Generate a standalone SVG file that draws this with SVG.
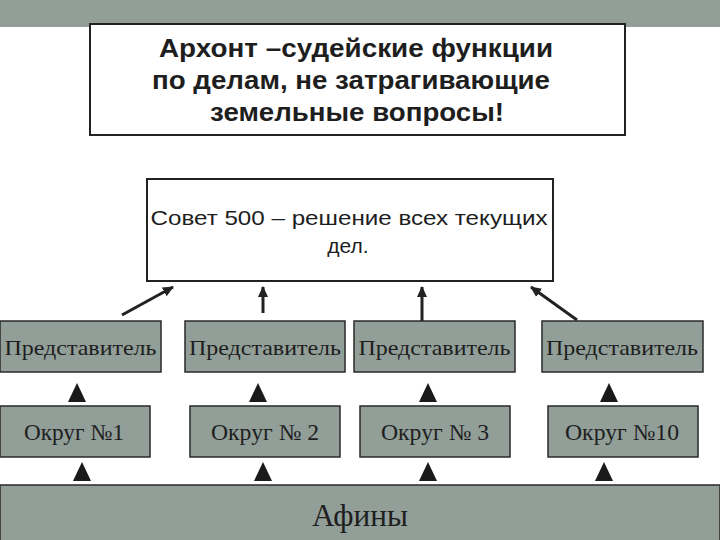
<svg xmlns="http://www.w3.org/2000/svg" width="720" height="540" viewBox="0 0 720 540">
<defs>
<style>
.band{fill:#929f99}
.gbox{fill:#929f99;stroke:#2a2a2a;stroke-width:1.5}
.wbox{fill:#fff;stroke:#222;stroke-width:2}
.bold{font-family:"Liberation Sans",Arial,sans-serif;font-weight:bold;font-size:26px;fill:#1e1e1e;text-anchor:middle}
.sans{font-family:"Liberation Sans",Arial,sans-serif;font-size:21px;fill:#1e1e1e;text-anchor:middle}
.serif{font-family:"Liberation Serif","Times New Roman",serif;fill:#1e1e1e;text-anchor:middle}
.rep{font-size:22px}
.okr{font-size:23px}
.conn{stroke:#222;stroke-width:3;fill:none;marker-end:url(#ah)}
.tri{fill:#1a1a1a}
</style>
<marker id="ah" markerUnits="userSpaceOnUse" markerWidth="12" markerHeight="12" refX="10" refY="6" orient="auto">
<path d="M0,1 L11,6 L0,11 Z" fill="#222"/>
</marker>
</defs>
<rect class="band" x="0" y="0" width="720" height="27"/>
<g id="archon">
<rect class="wbox" x="90" y="24" width="535" height="111"/>
<text class="bold" x="356" y="57" textLength="394" lengthAdjust="spacingAndGlyphs">Архонт –судейские функции</text>
<text class="bold" x="351" y="89" textLength="398" lengthAdjust="spacingAndGlyphs">по делам, не затрагивающие</text>
<text class="bold" x="357" y="121" textLength="294" lengthAdjust="spacingAndGlyphs">земельные вопросы!</text>
</g>
<g id="council">
<rect class="wbox" x="147" y="179" width="406" height="102"/>
<text class="sans" x="349" y="225" textLength="397" lengthAdjust="spacingAndGlyphs">Совет 500 – решение всех текущих</text>
<text class="sans" x="348" y="253">дел.</text>
</g>
<g id="connectors">
<line class="conn" x1="122" y1="315" x2="173" y2="287"/>
<line class="conn" x1="263" y1="313" x2="263" y2="287"/>
<line class="conn" x1="422" y1="321" x2="422" y2="287"/>
<line class="conn" x1="577" y1="320" x2="531" y2="287"/>
<polygon class="tri" points="77,383 86,402 68,402"/>
<polygon class="tri" points="258,383 267,402 249,402"/>
<polygon class="tri" points="428,383 437,402 419,402"/>
<polygon class="tri" points="609,383 618,402 600,402"/>
<polygon class="tri" points="82,462 91,481 73,481"/>
<polygon class="tri" points="263,462 272,481 254,481"/>
<polygon class="tri" points="428,462 437,481 419,481"/>
<polygon class="tri" points="604,462 613,481 595,481"/>
</g>
<g id="rep1"><rect class="gbox" x="0" y="321" width="161" height="51"/><text class="serif rep" x="80.5" y="355" textLength="152" lengthAdjust="spacingAndGlyphs">Представитель</text></g>
<g id="rep2"><rect class="gbox" x="185" y="321" width="160" height="51"/><text class="serif rep" x="265" y="355" textLength="152" lengthAdjust="spacingAndGlyphs">Представитель</text></g>
<g id="rep3"><rect class="gbox" x="354" y="321" width="161" height="51"/><text class="serif rep" x="434.5" y="355" textLength="152" lengthAdjust="spacingAndGlyphs">Представитель</text></g>
<g id="rep4"><rect class="gbox" x="542" y="321" width="161" height="51"/><text class="serif rep" x="622" y="355" textLength="152" lengthAdjust="spacingAndGlyphs">Представитель</text></g>
<g id="okrug1"><rect class="gbox" x="0" y="406" width="150" height="51"/><text class="serif okr" x="74" y="440" textLength="100" lengthAdjust="spacingAndGlyphs">Округ №1</text></g>
<g id="okrug2"><rect class="gbox" x="190" y="406" width="150" height="51"/><text class="serif okr" x="265" y="440" textLength="108" lengthAdjust="spacingAndGlyphs">Округ № 2</text></g>
<g id="okrug3"><rect class="gbox" x="360" y="406" width="150" height="51"/><text class="serif okr" x="435" y="440" textLength="108" lengthAdjust="spacingAndGlyphs">Округ № 3</text></g>
<g id="okrug10"><rect class="gbox" x="548" y="406" width="150" height="51"/><text class="serif okr" x="622" y="440" textLength="114" lengthAdjust="spacingAndGlyphs">Округ №10</text></g>
<g id="athens"><rect class="gbox" x="0" y="485" width="720" height="56"/><text class="serif" x="360" y="526" font-size="31" textLength="96" lengthAdjust="spacingAndGlyphs">Афины</text></g>
</svg>
